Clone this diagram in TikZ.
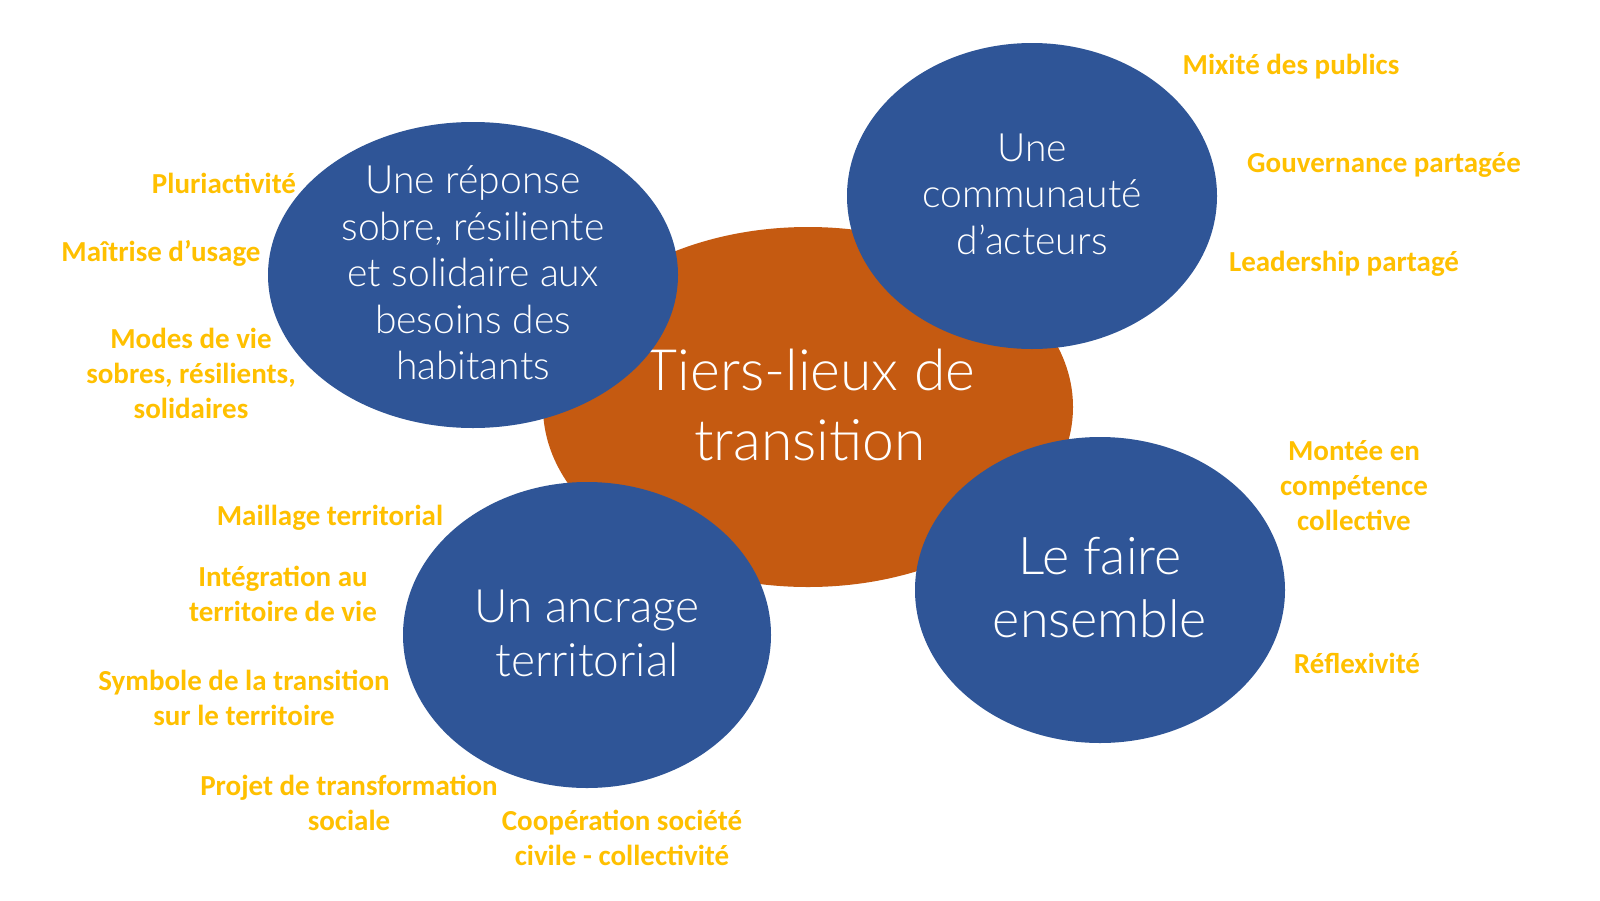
\documentclass[tikz,border=0pt]{standalone}
\usepackage{fontspec}
\setmainfont{Carlito}
\newfontfamily\handfont{Lato}[UprightFont=* Light]
\usetikzlibrary{shapes.geometric}
\definecolor{bubbleblue}{HTML}{2F5597}
\definecolor{coreorange}{HTML}{C55A11}
\definecolor{labelgold}{HTML}{FFC000}
\tikzset{
  bubble/.style={ellipse, fill=bubbleblue, inner sep=0pt, text=white, align=center, font=\handfont},
  core/.style={ellipse, fill=coreorange, inner sep=0pt, text=white, align=center, font=\handfont},
  lbl/.style={text=labelgold, align=center, inner sep=0pt, font=\fontsize{14.5}{17.5}\selectfont\bfseries},
}
\begin{document}
\begin{tikzpicture}[x=0.5pt, y=-0.5pt]
\useasboundingbox (0,0) rectangle (1600,900);
\fill[white] (0,0) rectangle (1600,900);
% central ellipse
\node[core, minimum width=265pt, minimum height=180pt] (core) at (808,407) {};
\node[text=white, align=center, font=\handfont\fontsize{28.5}{35}\selectfont, inner sep=0pt] (coretxt) at (810,405) {Tiers-lieux de\\transition};
% blue bubbles
\node[bubble, minimum width=205pt, minimum height=153pt] (reponse) at (473,275) {};
\node[text=white, align=center, font=\handfont\fontsize{19.5}{23.25}\selectfont, inner sep=0pt] (reponsetxt) at (473,273) {Une réponse\\sobre, résiliente\\et solidaire aux\\besoins des\\habitants};
\node[bubble, minimum width=185pt, minimum height=153pt] (commu) at (1032,196) {};
\node[text=white, align=center, font=\handfont\fontsize{19.5}{23.25}\selectfont, inner sep=0pt] (commutxt) at (1032,194) {Une\\communauté\\d’acteurs};
\node[bubble, minimum width=184pt, minimum height=153pt] (ancrage) at (587,635) {};
\node[text=white, align=center, font=\handfont\fontsize{23}{27}\selectfont, inner sep=0pt] (ancragetxt) at (587,633) {Un ancrage\\territorial};
\node[bubble, minimum width=185pt, minimum height=153pt] (faire) at (1100,590) {};
\node[text=white, align=center, font=\handfont\fontsize{26}{31.5}\selectfont, inner sep=0pt] (fairetxt) at (1100,588) {Le faire\\ensemble};
% labels
\node[lbl] (l1) at (224,183) {Pluriactivité};
\node[lbl] (l2) at (161,253) {Maîtrise d’usage};
\node[lbl] (l3) at (191,373) {Modes de vie\\sobres, résilients,\\solidaires};
\node[lbl] (l4) at (330,518) {Maillage territorial};
\node[lbl] (l5) at (283,594) {Intégration au\\territoire de vie};
\node[lbl] (l6) at (244,698) {Symbole de la transition\\sur le territoire};
\node[lbl] (l7) at (349,803) {Projet de transformation\\sociale};
\node[lbl] (l8) at (622,838) {Coopération société\\civile - collectivité};
\node[lbl] (l9) at (1291,67) {Mixité des publics};
\node[lbl] (l10) at (1384,165) {Gouvernance partagée};
\node[lbl] (l11) at (1344,264) {Leadership partagé};
\node[lbl] (l12) at (1354,486) {Montée en\\compétence\\collective};
\node[lbl] (l13) at (1357,663) {Réflexivité};
\end{tikzpicture}
\end{document}
